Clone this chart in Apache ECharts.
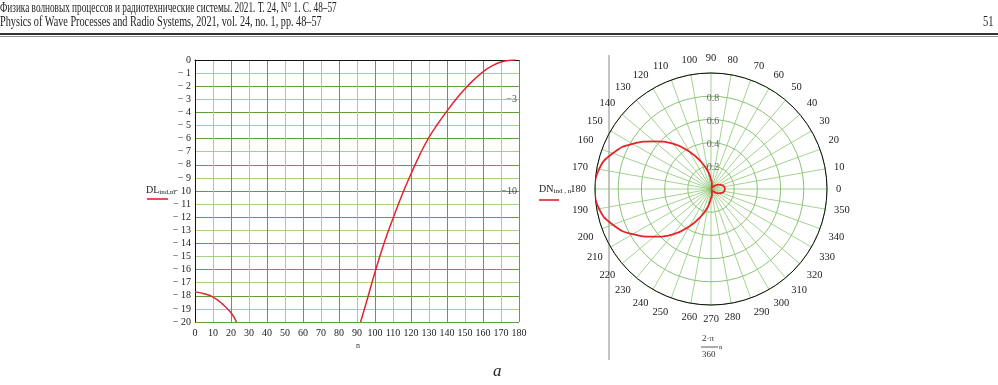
<!DOCTYPE html>
<html>
<head>
<meta charset="utf-8">
<script src="https://cdn.jsdelivr.net/npm/echarts@6/dist/echarts.min.js"></script>
<style>
html,body{margin:0;padding:0;background:#fff;}
#chart{width:998px;height:385px;}
</style>
</head>
<body>
<div id="chart"></div>
<script>
// left plot: DL in dB against n
var dlLowN = [0, 5, 10, 15, 20, 23];
var dlLowV = [-17.7, -17.85, -18.1, -18.6, -19.3, -20];
var dlHighN = [92, 95, 100, 105, 110, 115, 120, 125, 130, 135, 140, 145, 150, 155, 160, 165, 170, 175, 178];
var dlHighV = [-20, -18.6, -16.2, -14.0, -12.1, -10.3, -8.7, -7.2, -5.9, -4.85, -3.9, -3.0, -2.2, -1.5, -0.9, -0.45, -0.15, -0.02, 0];
var dlMarks = [-3, -10];

// right plot: DN against angle
var dnAngle = [0, 10, 20, 30, 40, 50, 60, 70, 80, 90, 100, 110, 120, 130, 140, 150, 160, 170, 180,
               190, 200, 210, 220, 230, 240, 250, 260, 270, 280, 290, 300, 310, 320, 330, 340, 350, 360];
var dnValue = [0.12, 0.115, 0.1, 0.075, 0.045, 0.02, 0.003, 0.02, 0.045, 0.08, 0.155, 0.25, 0.37, 0.51, 0.64, 0.78, 0.9, 0.98, 1.0,
               0.98, 0.9, 0.78, 0.64, 0.51, 0.37, 0.25, 0.155, 0.08, 0.045, 0.02, 0.003, 0.02, 0.045, 0.075, 0.1, 0.115, 0.12];
var radTicks = [0.2, 0.4, 0.6, 0.8];

var serif = 'Liberation Serif';
var red = '#e3242b';

function pairs(xs, ys) {
    var out = [];
    for (var i = 0; i < xs.length; i++) out.push([xs[i], ys[i]]);
    return out;
}

var myChart = echarts.init(document.getElementById('chart'));

var option = {
    backgroundColor: '#fff',
    animation: false,
    grid: {left: 195, top: 60, width: 324, height: 262},
    xAxis: {
        type: 'value', min: 0, max: 180, interval: 10,
        axisLine: {lineStyle: {color: '#111', width: 1}},
        axisTick: {show: false},
        axisLabel: {color: '#222', fontFamily: serif, fontSize: 10, margin: 6},
        splitLine: {show: true, lineStyle: {color: ['#5f9f3f', '#a5d383'], width: 1}}
    },
    yAxis: {
        type: 'value', min: -20, max: 0, interval: 1,
        axisLine: {show: true, lineStyle: {color: '#111', width: 1}},
        axisTick: {show: false},
        axisLabel: {
            color: '#222', fontFamily: serif, fontSize: 10, margin: 4,
            formatter: function (v) { return v === 0 ? '0' : '\u2212 ' + Math.abs(v); }
        },
        splitLine: {show: true, lineStyle: {color: ['#5f9f3f', '#a5d383'], width: 1}}
    },
    polar: {center: [711, 189], radius: 116},
    angleAxis: {
        type: 'value', min: 0, max: 360, interval: 10, startAngle: 0, clockwise: false,
        axisLine: {lineStyle: {color: '#111', width: 1}},
        axisTick: {show: false},
        axisLabel: {
            color: '#222', fontFamily: serif, fontSize: 10.5, margin: 9,
            formatter: function (v) { return v === 360 ? '' : String(v); }
        },
        splitLine: {show: true, lineStyle: {color: '#8cc872', width: 0.8}}
    },
    radiusAxis: {
        type: 'value', min: 0, max: 1, interval: 0.2,
        axisLine: {show: false}, axisTick: {show: false}, axisLabel: {show: false},
        splitLine: {show: true, lineStyle: {color: '#6fb352', width: 0.8}}
    },
    series: [
        {
            name: 'DL low', type: 'line', smooth: true, symbol: 'none',
            lineStyle: {color: red, width: 1.5},
            data: pairs(dlLowN, dlLowV)
        },
        {
            name: 'DL high', type: 'line', smooth: true, symbol: 'none',
            lineStyle: {color: red, width: 1.5},
            data: pairs(dlHighN, dlHighV)
        },
        {
            name: 'marks', type: 'scatter', symbolSize: 0, silent: true,
            label: {
                show: true, position: 'left', distance: 2, color: '#222', fontFamily: serif, fontSize: 10,
                formatter: function (p) { return '\u2212' + Math.abs(p.value[1]); }
            },
            data: dlMarks.map(function (v) { return [180, v]; })
        },
        {
            name: 'DN', type: 'line', coordinateSystem: 'polar', smooth: true, symbol: 'none',
            lineStyle: {color: red, width: 1.8},
            data: pairs(dnValue, dnAngle)
        },
        {
            name: 'ticks', type: 'scatter', coordinateSystem: 'polar', symbolSize: 0, silent: true,
            label: {
                show: true, position: 'inside', offset: [2, 2], color: '#444', fontFamily: serif, fontSize: 10,
                formatter: function (p) { return String(p.value[0]); }
            },
            data: radTicks.map(function (r) { return [r, 90]; })
        }
    ],
    graphic: [
        {type: 'text', x: 0, y: 1, scaleX: 0.66, style: {text: 'Физика волновых процессов и радиотехнические системы. 2021. Т. 24, N° 1. С. 48–57', font: '14px ' + serif, fill: '#222'}},
        {type: 'text', x: 0, y: 15, scaleX: 0.73, style: {text: 'Physics of Wave Processes and Radio Systems, 2021, vol. 24, no. 1, pp. 48–57', font: '14px ' + serif, fill: '#222'}},
        {type: 'text', x: 983, y: 15, scaleX: 0.75, style: {text: '51', font: '14px ' + serif, fill: '#222'}},
        {type: 'line', shape: {x1: 0, y1: 34, x2: 998, y2: 34}, style: {stroke: '#333', lineWidth: 2}},
        {type: 'line', shape: {x1: 0, y1: 36.5, x2: 998, y2: 36.5}, style: {stroke: '#777', lineWidth: 0.8}},
        {type: 'line', shape: {x1: 609, y1: 55, x2: 609, y2: 360}, style: {stroke: '#888', lineWidth: 1}},
        {
            type: 'text', x: 146, y: 184,
            style: {text: '{a|DL}{b|ind,nr}', rich: {a: {fontFamily: serif, fontSize: 10, fill: '#222'}, b: {fontFamily: serif, fontSize: 7, fill: '#222', padding: [5, 0, 0, 0]}}}
        },
        {type: 'line', shape: {x1: 147, y1: 199, x2: 168, y2: 199}, style: {stroke: red, lineWidth: 1.6}},
        {
            type: 'text', x: 539, y: 183,
            style: {text: '{a|DN}{b|ind , n}', rich: {a: {fontFamily: serif, fontSize: 10, fill: '#222'}, b: {fontFamily: serif, fontSize: 7, fill: '#222', padding: [5, 0, 0, 0]}}}
        },
        {type: 'line', shape: {x1: 539, y1: 200, x2: 559, y2: 200}, style: {stroke: red, lineWidth: 1.6}},
        {type: 'text', x: 356, y: 342, style: {text: 'n', font: '8px ' + serif, fill: '#333'}},
        {type: 'text', x: 702, y: 334, style: {text: '2·π', font: '9px ' + serif, fill: '#333'}},
        {type: 'line', shape: {x1: 701, y1: 347, x2: 718, y2: 347}, style: {stroke: '#333', lineWidth: 0.8}},
        {type: 'text', x: 702, y: 350, style: {text: '360', font: '9px ' + serif, fill: '#333'}},
        {type: 'text', x: 719, y: 344, style: {text: 'n', font: '7px ' + serif, fill: '#333'}},
        {type: 'text', x: 493, y: 363, style: {text: 'a', font: 'italic 17px ' + serif, fill: '#222'}}
    ]
};

myChart.setOption(option);
</script>
</body>
</html>
